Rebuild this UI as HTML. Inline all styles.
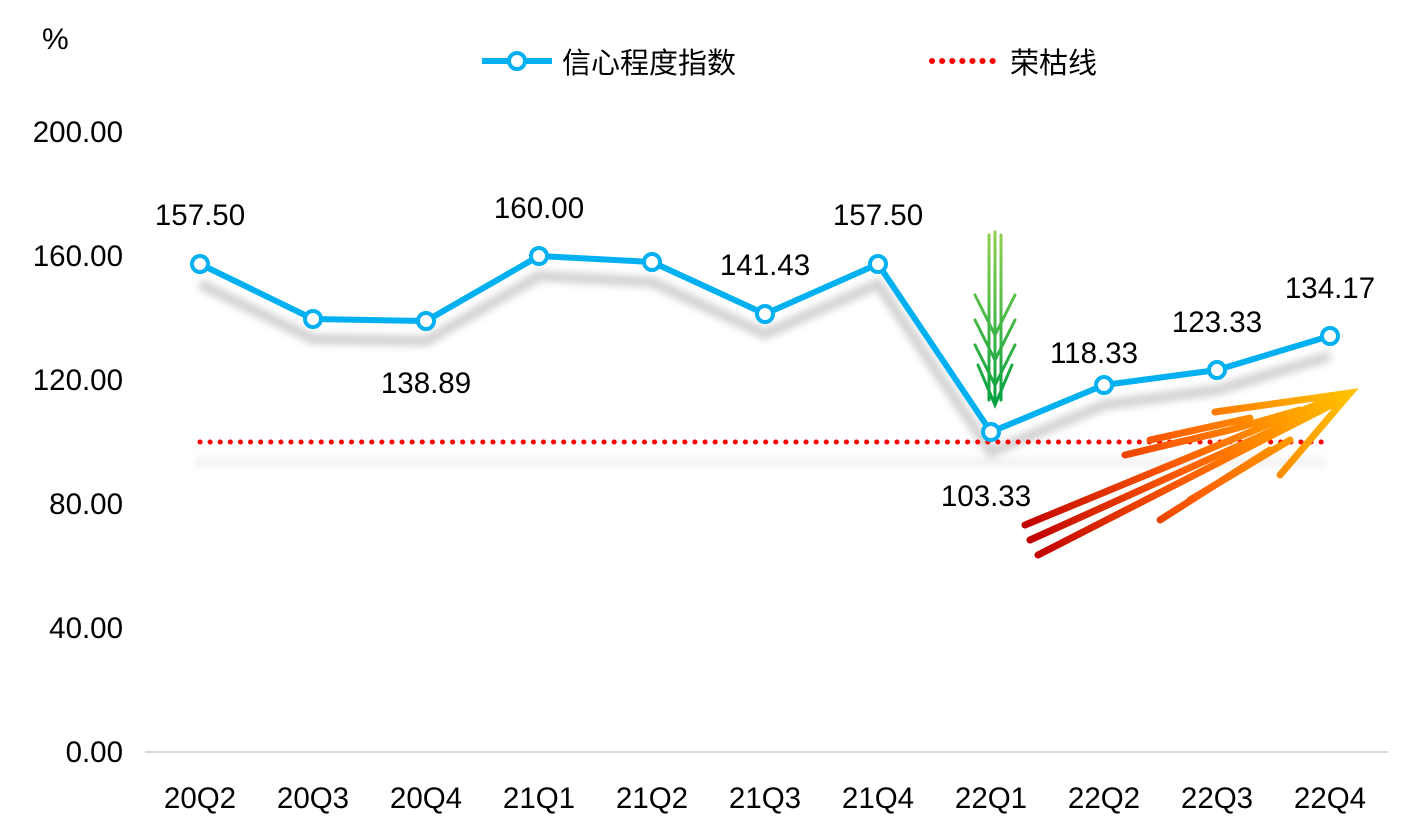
<!DOCTYPE html>
<html><head><meta charset="utf-8"><style>
html,body{margin:0;padding:0;background:#fff;}
svg{display:block;font-family:"Liberation Sans","Noto Sans CJK SC",sans-serif;}
</style></head><body>
<svg width="1414" height="823" viewBox="0 0 1414 823" xmlns="http://www.w3.org/2000/svg">
<defs>
<filter id="bl" x="-10%" y="-50%" width="120%" height="200%"><feGaussianBlur stdDeviation="4"/></filter>
<linearGradient id="og" gradientUnits="userSpaceOnUse" x1="1030" y1="545" x2="1345" y2="395">
<stop offset="0" stop-color="#c00000"/><stop offset="0.5" stop-color="#ff6000"/><stop offset="1" stop-color="#ffc000"/></linearGradient>
<linearGradient id="gg" gradientUnits="userSpaceOnUse" x1="0" y1="230" x2="0" y2="410">
<stop offset="0" stop-color="#92d050"/><stop offset="1" stop-color="#00a040"/></linearGradient>
</defs>
<text x="42" y="49" font-size="30">%</text>
<g font-size="29.5" text-anchor="end" fill="#000">
<text x="123" y="142">200.00</text><text x="123" y="266">160.00</text><text x="123" y="390">120.00</text>
<text x="123" y="514">80.00</text><text x="123" y="638">40.00</text><text x="123" y="762">0.00</text>
</g>
<line x1="145" y1="752" x2="1388" y2="752" stroke="#d9d9d9" stroke-width="2"/>
<g font-size="29.5" text-anchor="middle">
<text x="200" y="808">20Q2</text><text x="313" y="808">20Q3</text><text x="426" y="808">20Q4</text>
<text x="539" y="808">21Q1</text><text x="652" y="808">21Q2</text><text x="765" y="808">21Q3</text>
<text x="878" y="808">21Q4</text><text x="991" y="808">22Q1</text><text x="1104" y="808">22Q2</text>
<text x="1217" y="808">22Q3</text><text x="1330" y="808">22Q4</text>
</g>
<line x1="482" y1="61" x2="552" y2="61" stroke="#00b0f0" stroke-width="6"/>
<circle cx="517" cy="61" r="8" fill="#fff" stroke="#00b0f0" stroke-width="4"/>
<text x="562" y="73" font-size="29">信心程度指数</text>
<line x1="932" y1="61" x2="1000" y2="61" stroke="#ff0000" stroke-width="6" stroke-dasharray="0.1 10" stroke-linecap="round"/>
<text x="1010" y="73" font-size="29">荣枯线</text>
<g filter="url(#bl)" opacity="0.35">
<line x1="200" y1="462" x2="1330" y2="462" stroke="#888" stroke-width="6" stroke-dasharray="0.1 10" stroke-linecap="round"/>
<polyline points="200,284 313,339 426,341 539,276 652,282 765,334 878,284 991,452 1104,405 1217,390 1330,356" fill="none" stroke="#777" stroke-width="10"/>
</g>
<line x1="200" y1="442" x2="1330" y2="442" stroke="#ff0000" stroke-width="5" stroke-dasharray="0.1 10" stroke-linecap="round"/>
<polyline points="200,264 313,319 426,321 539,256 652,262 765,314 878,264 991,432 1104,385 1217,370 1330,336" fill="none" stroke="#00b0f0" stroke-width="6" stroke-linejoin="round"/>
<g fill="#fff" stroke="#00b0f0" stroke-width="4">
<circle cx="200" cy="264" r="8"/><circle cx="313" cy="319" r="8"/><circle cx="426" cy="321" r="8"/>
<circle cx="539" cy="256" r="8"/><circle cx="652" cy="262" r="8"/><circle cx="765" cy="314" r="8"/>
<circle cx="878" cy="264" r="8"/><circle cx="991" cy="432" r="8"/><circle cx="1104" cy="385" r="8"/>
<circle cx="1217" cy="370" r="8"/><circle cx="1330" cy="336" r="8"/>
</g>
<g font-size="29.5" text-anchor="middle">
<text x="200" y="225">157.50</text><text x="426" y="393">138.89</text><text x="539" y="218">160.00</text>
<text x="765" y="275">141.43</text><text x="878" y="225">157.50</text><text x="986" y="506">103.33</text>
<text x="1094" y="363">118.33</text><text x="1217" y="332">123.33</text><text x="1330" y="298">134.17</text>
</g>
<g fill="none" stroke="url(#gg)" stroke-width="3" stroke-linecap="round">
<line x1="989" y1="235" x2="989" y2="400"/><line x1="995" y1="232" x2="995" y2="405"/><line x1="1001" y1="235" x2="1001" y2="400"/>
<polyline points="975,295 995,335 1015,295"/><polyline points="975,320 995,360 1015,320"/>
<polyline points="975,345 995,385 1015,345"/><polyline points="978,365 995,405 1012,365"/>
</g>
<g fill="none" stroke="url(#og)" stroke-width="7" stroke-linecap="round">
<line x1="1025" y1="525" x2="1335" y2="397"/>
<line x1="1030" y1="540" x2="1340" y2="400"/>
<line x1="1038" y1="555" x2="1345" y2="398"/>
<polyline points="1125,455 1230,430 1300,410"/>
<polyline points="1150,440 1250,418"/>
<polyline points="1215,412 1350,393 1280,475"/>
<polyline points="1190,500 1290,440"/>
<polyline points="1160,520 1270,450"/>
</g>
</svg>
</body></html>
